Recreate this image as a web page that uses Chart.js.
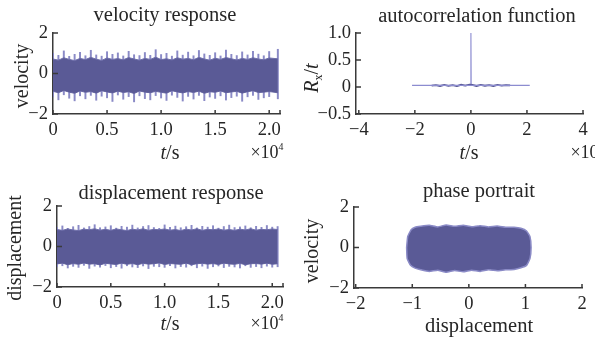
<!DOCTYPE html>
<html><head><meta charset="utf-8">
<script src="https://cdn.jsdelivr.net/npm/chart.js@4/dist/chart.umd.min.js"></script>
<style>
html,body{margin:0;padding:0;background:#fff;width:595px;height:345px;overflow:hidden;position:relative;}
canvas{position:absolute;}
.t{position:absolute;font-family:"Liberation Serif","Times New Roman",serif;color:#262626;white-space:nowrap;transform:translate(-50%,-50%);line-height:1;}
.r{transform:translate(-50%,-50%) rotate(-90deg);}
sup{font-size:55%;vertical-align:top;position:relative;top:-1px;}
sub{font-size:60%;vertical-align:baseline;position:relative;top:4px;}
</style></head><body>
<canvas id="c1"></canvas><canvas id="c2"></canvas><canvas id="c3"></canvas><canvas id="c4"></canvas>

<div class="t" style="left:165px;top:14px;font-size:20.5px">velocity response</div>
<div class="t r" style="left:21px;top:76px;font-size:20px">velocity</div>
<div class="t" style="left:170px;top:152px;font-size:20px"><i>t</i>/s</div>
<div class="t" style="left:267px;top:152px;font-size:18px">×10<sup>4</sup></div>

<div class="t" style="left:477px;top:15px;font-size:20.5px">autocorrelation function</div>
<div class="t r" style="left:311px;top:78px;font-size:20px"><i>R</i><sub>x</sub>/<i>t</i></div>
<div class="t" style="left:469px;top:152px;font-size:20px"><i>t</i>/s</div>
<div class="t" style="left:587px;top:152px;font-size:18px">×10<sup>6</sup></div>

<div class="t" style="left:171px;top:192px;font-size:20.5px">displacement response</div>
<div class="t r" style="left:14px;top:248px;font-size:20px">displacement</div>
<div class="t" style="left:170px;top:323px;font-size:20px"><i>t</i>/s</div>
<div class="t" style="left:267px;top:323px;font-size:18px">×10<sup>4</sup></div>

<div class="t" style="left:479px;top:190px;font-size:20.5px">phase portrait</div>
<div class="t r" style="left:311px;top:251px;font-size:20px">velocity</div>
<div class="t" style="left:479px;top:325px;font-size:20.5px">displacement</div>

<script>
// ---------- data ----------
const velTime = [0,0.05,0.1,0.15,0.2,0.25,0.3,0.35,0.4,0.45,0.5,0.55,0.6,0.65,0.7,0.75,0.8,0.85,0.9,0.95,1.0,1.05,1.1,1.15,1.2,1.25,1.3,1.35,1.4,1.45,1.5,1.55,1.6,1.65,1.7,1.75,1.8,1.85,1.9,1.95,2.0,2.08];
const velBandHi = [0.72,0.66,0.78,0.7,0.64,0.75,0.69,0.8,0.71,0.65,0.77,0.7,0.74,0.68,0.79,0.72,0.66,0.75,0.7,0.81,0.69,0.73,0.67,0.78,0.71,0.75,0.68,0.8,0.72,0.66,0.76,0.7,0.79,0.73,0.67,0.75,0.7,0.78,0.72,0.68,0.77,0.73];
const velBandLo = [-0.88,-0.95,-0.84,-0.92,-0.98,-0.86,-0.93,-0.89,-0.97,-0.85,-0.91,-0.96,-0.87,-0.94,-0.9,-0.99,-0.86,-0.92,-0.95,-0.88,-0.93,-0.97,-0.85,-0.91,-0.96,-0.89,-0.94,-0.87,-0.98,-0.9,-0.93,-0.86,-0.95,-0.91,-0.88,-0.97,-0.9,-0.85,-0.94,-0.92,-0.89,-0.95];
const velSpikeHi = [1.0,0.9,1.12,0.85,0.95,1.05,0.88,1.15,0.92,0.86,1.08,0.95,1.02,0.87,1.1,0.93,0.89,1.04,0.9,1.18,0.94,1.0,0.86,1.12,0.91,1.06,0.88,1.14,0.97,0.9,1.03,0.87,1.16,0.95,0.89,1.07,0.92,1.1,0.96,0.88,1.09,1.2];
const velSpikeLo = [-1.15,-1.3,-1.05,-1.22,-1.35,-1.1,-1.25,-1.08,-1.32,-1.12,-1.2,-1.38,-1.06,-1.27,-1.14,-1.4,-1.1,-1.24,-1.3,-1.09,-1.21,-1.33,-1.07,-1.18,-1.36,-1.13,-1.26,-1.08,-1.34,-1.16,-1.23,-1.1,-1.31,-1.19,-1.12,-1.37,-1.15,-1.08,-1.28,-1.2,-1.14,-1.25];

const dispTime = [0,0.05,0.1,0.15,0.2,0.25,0.3,0.35,0.4,0.45,0.5,0.55,0.6,0.65,0.7,0.75,0.8,0.85,0.9,0.95,1.0,1.05,1.1,1.15,1.2,1.25,1.3,1.35,1.4,1.45,1.5,1.55,1.6,1.65,1.7,1.75,1.8,1.85,1.9,1.95,2.0,2.05];
const dispBandHi = [0.84,0.8,0.87,0.82,0.79,0.86,0.83,0.88,0.81,0.85,0.8,0.87,0.83,0.79,0.86,0.82,0.88,0.8,0.85,0.83,0.87,0.81,0.84,0.79,0.86,0.82,0.88,0.8,0.85,0.83,0.87,0.81,0.84,0.8,0.86,0.82,0.88,0.81,0.85,0.83,0.87,0.84];
const dispBandLo = [-0.86,-0.82,-0.9,-0.84,-0.88,-0.81,-0.87,-0.85,-0.91,-0.83,-0.86,-0.89,-0.82,-0.88,-0.84,-0.9,-0.83,-0.87,-0.85,-0.81,-0.89,-0.84,-0.86,-0.88,-0.82,-0.9,-0.85,-0.83,-0.87,-0.84,-0.89,-0.82,-0.86,-0.88,-0.83,-0.9,-0.85,-0.84,-0.87,-0.82,-0.88,-0.85];
const dispSpikeHi = [0.95,1.02,0.9,0.98,1.05,0.92,0.99,1.08,0.93,0.97,1.03,0.91,1.0,0.96,1.06,0.92,0.99,1.04,0.94,0.9,1.07,0.95,1.01,0.93,0.98,1.05,0.92,1.0,0.96,1.03,0.91,0.99,1.06,0.94,0.97,1.02,0.93,1.0,0.95,1.04,0.96,0.99];
const dispSpikeLo = [-1.0,-0.95,-1.06,-0.98,-1.03,-0.93,-1.08,-0.97,-1.02,-0.94,-1.05,-0.99,-1.07,-0.95,-1.01,-1.04,-0.96,-1.09,-0.98,-1.0,-1.03,-0.94,-1.06,-0.99,-1.02,-0.95,-1.05,-0.97,-1.08,-1.0,-0.96,-1.04,-0.98,-1.01,-1.06,-0.95,-1.03,-0.99,-1.05,-0.97,-1.02,-1.0];

const acBaseLag = [-2.1, 2.1];
const acBaseVal = [0.03, 0.03];
const acNoiseLag = [-1.4,-1.25,-1.1,-0.95,-0.8,-0.65,-0.5,-0.35,-0.2,-0.05,0.05,0.2,0.35,0.5,0.65,0.8,0.95,1.1,1.25,1.4];
const acNoiseVal = [0.025,0.035,0.02,0.04,0.022,0.036,0.018,0.042,0.025,0.045,0.04,0.02,0.038,0.024,0.035,0.02,0.04,0.026,0.034,0.03];
const acSpikeLag = [-0.01, 0, 0.01];
const acSpikeVal = [0.03, 1.0, 0.03];

const phaseDisp = [-1.1,-1.08,-1.02,-0.95,-0.85,-0.7,-0.55,-0.4,-0.25,-0.1,0.05,0.2,0.35,0.5,0.65,0.8,0.92,1.02,1.08,1.1,1.08,1.02,0.92,0.8,0.65,0.5,0.35,0.2,0.05,-0.1,-0.25,-0.4,-0.55,-0.7,-0.85,-0.95,-1.03,-1.09,-1.1];
const phaseVel  = [0,0.55,0.88,1.0,1.05,1.1,1.02,1.12,1.05,1.1,1.03,1.08,1.02,1.06,1.0,1.0,0.95,0.82,0.55,0,-0.55,-0.88,-1.0,-1.08,-1.1,-1.15,-1.1,-1.18,-1.12,-1.2,-1.13,-1.22,-1.12,-1.18,-1.1,-1.02,-0.88,-0.55,0];

const ticksVelX = [0,0.5,1.0,1.5,2.0];   const labVelX = ['0','0.5','1.0','1.5','2.0'];
const ticksVelY = [-2,0,2];              const labVelY = ['\u22122','0','2'];
const ticksAcX = [-4,-2,0,2,4];          const labAcX = ['\u22124','\u22122','0','2','4'];
const ticksAcY = [-0.5,0,0.5,1.0];       const labAcY = ['\u22120.5','0','0.5','1.0'];
const ticksPhX = [-2,-1,0,1,2];          const labPhX = ['\u22122','\u22121','0','1','2'];
const ticksPhY = [-2,0,2];               const labPhY = ['\u22122','0','2'];

// ---------- helpers ----------
const FONT = '"Liberation Serif","Times New Roman",serif';
const AX = '#3a3a3a';
const DARK = '#5a5a96', LIGHT = '#8a8ac6';
const YW = 50, PT = 14, PR = 14, XH = 32;
const pts = (xs, ys) => xs.map((x, i) => ({x: x, y: ys[i]}));
const bars = (xs, lo, hi) => xs.map((x, i) => ({x: x, y: [lo[i], hi[i]]}));

const inwardTicks = {
  id: 'inwardTicks',
  afterDraw(chart) {
    const {ctx, chartArea: a, scales: {x, y}} = chart;
    ctx.save();
    ctx.strokeStyle = AX; ctx.lineWidth = 1.5;
    ctx.beginPath();
    x.ticks.forEach(t => { const p = x.getPixelForValue(t.value); ctx.moveTo(p, a.bottom); ctx.lineTo(p, a.bottom - 4); });
    ctx.moveTo(a.right, a.bottom); ctx.lineTo(a.right, a.bottom - 4);
    y.ticks.forEach(t => { const p = y.getPixelForValue(t.value); ctx.moveTo(a.left, p); ctx.lineTo(a.left + 5, p); });
    ctx.stroke();
    ctx.restore();
  }
};

function axis(min, max, tickVals, labels, isX) {
  return {
    type: 'linear', min: min, max: max, offset: false,
    afterBuildTicks: s => { s.ticks = tickVals.map(v => ({value: v})); },
    afterFit: s => { if (isX) s.height = XH; else s.width = YW; },
    grid: {display: false, drawTicks: false},
    border: {display: true, color: AX, width: 1.5},
    ticks: {font: {family: FONT, size: 18.5}, color: '#262626', padding: 5,
            autoSkip: false, maxRotation: 0, callback: (v, i) => labels[i]}
  };
}

function make(id, box, xs, ys, datasets) {
  const cv = document.getElementById(id);
  cv.style.left = (box.l - YW) + 'px';
  cv.style.top = (box.t - PT) + 'px';
  cv.width = box.r - box.l + YW + PR;
  cv.height = box.b - box.t + PT + XH;
  return new Chart(cv, {
    type: 'line',
    data: {datasets: datasets},
    options: {
      responsive: false, animation: false, devicePixelRatio: 1,
      layout: {padding: {left: 0, top: PT, right: PR, bottom: 0}, autoPadding: false},
      plugins: {legend: {display: false}, tooltip: {enabled: false}, title: {display: false}},
      elements: {point: {radius: 0}},
      scales: {x: xs, y: ys}
    },
    plugins: [inwardTicks]
  });
}

function signalSets(t, bHi, bLo, sHi, sLo) {
  return [
    {type: 'line', data: pts(t, bHi), borderColor: '#6e6eaa', borderWidth: 1, fill: '+1', backgroundColor: DARK, order: 1, tension: 0},
    {type: 'line', data: pts(t, bLo), borderColor: '#6e6eaa', borderWidth: 1, fill: false, order: 1, tension: 0},
    {type: 'bar', data: bars(t, sLo, sHi), backgroundColor: LIGHT, barThickness: 1.3, order: 2}
  ];
}

make('c1', {l: 53, t: 31, r: 280, b: 114},
  axis(0, 2.1, ticksVelX, labVelX, true), axis(-2, 2, ticksVelY, labVelY, false),
  signalSets(velTime, velBandHi, velBandLo, velSpikeHi, velSpikeLo));

make('c2', {l: 356, t: 31, r: 583, b: 114},
  axis(-4.1, 4, ticksAcX, labAcX, true), axis(-0.5, 1.0, ticksAcY, labAcY, false),
  [
    {data: pts(acBaseLag, acBaseVal), borderColor: '#8c8cd0', borderWidth: 1.2, fill: false},
    {data: pts(acNoiseLag, acNoiseVal), borderColor: '#50508c', borderWidth: 1.8, fill: false},
    {data: pts(acSpikeLag, acSpikeVal), borderColor: '#9494d4', borderWidth: 1.2, fill: false}
  ]);

make('c3', {l: 57, t: 204, r: 283, b: 287},
  axis(0, 2.1, ticksVelX, labVelX, true), axis(-2, 2, ticksVelY, labVelY, false),
  signalSets(dispTime, dispBandHi, dispBandLo, dispSpikeHi, dispSpikeLo));

make('c4', {l: 354, t: 205, r: 582, b: 288},
  axis(-2.03, 2, ticksPhX, labPhX, true), axis(-2, 2, ticksPhY, labPhY, false),
  [
    {data: pts(phaseDisp, phaseVel), borderColor: LIGHT, borderWidth: 1.5, fill: 'shape', backgroundColor: DARK, tension: 0.12}
  ]);
</script>
</body></html>
